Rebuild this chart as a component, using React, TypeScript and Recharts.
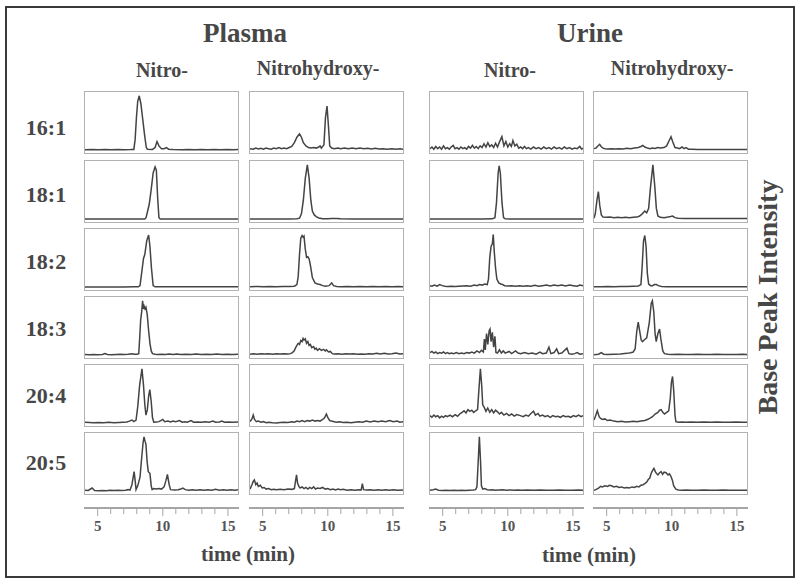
import React from 'react';
import { LineChart, Line, XAxis, YAxis } from 'recharts';

// ---------- text content ----------
const groupTitles = ['Plasma', 'Urine'];
const subTitles = ['Nitro-', 'Nitrohydroxy-', 'Nitro-', 'Nitrohydroxy-'];
const rowLabels = ['16:1', '18:1', '18:2', '18:3', '20:4', '20:5'];
const axisTitle = 'time (min)';
const sideTitle = 'Base Peak Intensity';
const axisTicks = [5, 6, 7, 8, 9, 10, 11, 12, 13, 14, 15];
const labeledTicks = [5, 10, 15];
const timeDomain = [3.95, 15.85];
const intensityDomain = [-5, 107];

// ---------- traces: [time (min), relative intensity] ----------
const pNitro161 = [[3.95,1],[4.5,1.5],[5,1],[5.5,1.5],[6,1],[6.5,1.5],[7,1],[7.5,1.2],[7.75,1.5],[7.85,20],[7.95,60],[8.05,90],[8.17,100],[8.3,85],[8.45,55],[8.6,25],[8.72,5],[8.8,2],[9.2,1.5],[9.4,5],[9.55,16],[9.7,8],[9.9,3],[10.1,3],[10.28,5],[10.45,2],[10.8,1.5],[11.5,1],[12,1.5],[12.5,1],[13,1.5],[13.5,1],[14,1.2],[14.5,1],[15,1.5],[15.5,1],[15.85,1.2]];
const pHydroxy161 = [[3.95,3],[4.2,2],[4.4,4],[4.6,2.5],[4.8,3.5],[5,2],[5.2,4],[5.4,3],[5.6,2],[5.8,4],[6,3],[6.2,5],[6.4,3],[6.6,4],[6.8,3],[7,5],[7.2,7],[7.4,14],[7.6,24],[7.8,30],[7.95,24],[8.1,14],[8.3,8],[8.5,5],[8.7,4],[8.9,5],[9.1,4],[9.3,6],[9.4,8],[9.5,4],[9.7,10],[9.82,60],[9.94,81],[10.05,45],[10.15,8],[10.3,4],[10.5,3],[10.8,4],[11,3],[11.3,4],[11.6,3],[11.9,4],[12.2,3],[12.5,4],[12.8,3],[13.1,3.5],[13.4,2.5],[13.7,3.5],[14,2.5],[14.3,3],[14.6,2],[15,3],[15.3,2],[15.6,3],[15.85,2]];
const uNitro161 = [[3.95,3],[4.1,6],[4.25,2],[4.4,7],[4.55,3],[4.7,6],[4.85,2],[5,8],[5.15,3],[5.3,5],[5.45,2],[5.6,6],[5.75,9],[5.9,3],[6.05,5],[6.2,2],[6.35,6],[6.5,3],[6.65,5],[6.8,2],[6.95,7],[7.1,4],[7.25,9],[7.4,4],[7.55,7],[7.7,3],[7.85,8],[8,5],[8.15,12],[8.3,6],[8.45,14],[8.6,7],[8.75,10],[8.9,5],[9.05,13],[9.2,6],[9.35,15],[9.54,25],[9.7,8],[9.85,16],[10,6],[10.15,12],[10.28,7],[10.4,18],[10.55,8],[10.7,11],[10.85,4],[11,6],[11.15,3],[11.3,7],[11.45,3],[11.6,5],[11.8,2],[12,6],[12.2,3],[12.4,5],[12.6,2],[12.8,6],[13,3],[13.2,5],[13.4,2],[13.6,6],[13.8,3],[14,5],[14.2,2],[14.4,6],[14.6,3],[14.8,5],[15,2],[15.2,4],[15.4,3],[15.6,7],[15.75,2],[15.85,4]];
const uHydroxy161 = [[3.95,3],[4.1,4],[4.25,8],[4.39,11],[4.5,7],[4.65,4],[4.8,3],[5,2.5],[5.3,3],[5.6,2.5],[5.9,3],[6.2,2.5],[6.5,3.5],[6.8,3],[7.1,4],[7.4,5],[7.6,7],[7.75,9],[7.9,6],[8.1,4],[8.3,3],[8.5,4],[8.7,3.5],[8.9,5],[9.1,4],[9.4,5],[9.6,8],[9.8,18],[9.94,25],[10.08,15],[10.25,5],[10.45,4],[10.6,3],[10.8,6],[10.95,3],[11.1,5],[11.3,2],[11.6,2],[12,1.5],[12.5,1.5],[13,1.2],[13.5,1.5],[14,1.2],[14.5,1.5],[15,1.2],[15.5,1.5],[15.85,1.2]];

const pNitro181 = [[3.95,0.5],[5,0.5],[6,0.5],[7,0.5],[8,0.5],[8.6,0.5],[8.7,3],[8.85,18],[8.95,28],[9.1,55],[9.25,85],[9.4,96],[9.5,90],[9.6,40],[9.7,3],[9.8,0.5],[11,0.5],[12,0.5],[13,0.5],[14,0.5],[15,0.5],[15.85,0.5]];
const pHydroxy181 = [[3.95,0.5],[5,0.5],[6,0.5],[7,0.5],[7.6,0.8],[7.8,2],[7.95,10],[8.1,35],[8.25,75],[8.41,100],[8.55,75],[8.68,35],[8.8,15],[8.95,8],[9.1,5],[9.3,2.5],[9.6,1],[10,0.8],[10.3,1.5],[10.7,1.5],[11,0.8],[12,0.5],[13,0.5],[14,0.5],[15,0.5],[15.85,0.5]];
const uNitro181 = [[3.95,0.5],[5,0.5],[6,0.5],[7,0.5],[8,0.5],[8.8,0.8],[9,3],[9.12,30],[9.25,85],[9.33,98],[9.42,85],[9.55,30],[9.67,3],[9.8,0.8],[10.5,0.5],[12,0.5],[13,0.5],[14,0.5],[15,0.5],[15.85,0.5]];
const uHydroxy181 = [[3.95,2],[4.05,10],[4.18,35],[4.29,51],[4.4,25],[4.52,8],[4.65,4],[4.9,3.5],[5.2,4],[5.5,3],[5.8,3.5],[6.1,3],[6.4,3.5],[6.7,3],[7,3.5],[7.3,4],[7.5,6],[7.7,10],[7.9,15],[8.05,12],[8.2,20],[8.35,60],[8.53,100],[8.68,60],[8.8,20],[8.92,6],[9.1,3.5],[9.4,3],[9.7,4],[9.9,5],[10.06,6],[10.25,3],[10.5,2],[11,1.5],[12,1.5],[13,1.2],[14,1.5],[15,1.2],[15.85,1.5]];

const pNitro182 = [[3.95,0.5],[5,0.5],[6,0.5],[7,0.5],[7.7,0.8],[8.1,0.8],[8.23,3],[8.35,25],[8.5,53],[8.6,60],[8.75,85],[8.9,96],[9.0,75],[9.12,35],[9.25,3],[9.4,0.8],[10,0.8],[11,1],[12,0.8],[13,1],[14,0.8],[15,1],[15.85,0.8]];
const pHydroxy182 = [[3.95,1],[4.5,1.5],[5,1],[5.5,1.5],[6,1],[6.5,1.5],[7,1.5],[7.4,2],[7.6,5],[7.7,20],[7.8,60],[7.9,90],[8.0,95],[8.08,92],[8.15,94],[8.25,70],[8.35,55],[8.45,56],[8.55,52],[8.65,40],[8.8,18],[9.0,8],[9.2,6],[9.4,5],[9.6,3],[9.8,2],[10.1,3],[10.3,8],[10.45,3],[10.7,1.5],[11,1],[11.5,1.5],[12,1],[12.5,1.5],[13,1],[13.5,1.5],[14,1],[14.5,1.5],[15,1],[15.5,1.5],[15.85,1]];
const uNitro182 = [[3.95,3],[4.1,2],[4.3,4],[4.5,2],[4.7,5],[4.9,3],[5.1,2],[5.3,1.5],[5.6,2],[5.9,1.5],[6.2,2],[6.5,2.5],[6.8,3],[7.1,2],[7.4,4],[7.6,3],[7.8,5],[8.0,4],[8.2,6],[8.4,5],[8.5,15],[8.6,55],[8.7,75],[8.8,80],[8.87,97],[8.95,65],[9.05,35],[9.15,15],[9.3,8],[9.45,6],[9.6,5],[9.75,3],[10,2.5],[10.3,3],[10.6,2],[10.9,3],[11.2,2],[11.5,3],[11.8,2],[12.1,3.5],[12.4,2],[12.7,3],[13,4],[13.3,2.5],[13.6,4],[13.9,3],[14.2,4],[14.5,2.5],[14.8,4],[15.1,3],[15.4,2],[15.6,4],[15.85,3]];
const uHydroxy182 = [[3.95,1],[4.5,1],[5,1.5],[5.5,1],[6,1.5],[6.5,1.5],[7,2],[7.4,2.5],[7.6,5],[7.7,40],[7.8,85],[7.9,95],[8.0,75],[8.1,25],[8.2,6],[8.35,3],[8.5,3],[8.65,5],[8.8,5],[8.95,3],[9.2,1.5],[9.6,1],[10,1],[11,1],[12,1],[13,1],[14,1],[15,1],[15.85,1]];

const pNitro183 = [[3.95,1.5],[4.3,1],[4.6,1.5],[4.9,1],[5.3,1.5],[5.5,3],[5.7,1.5],[6,1],[6.4,1.5],[6.7,2],[7,1.5],[7.3,2],[7.6,3],[7.8,2],[8.0,2],[8.13,3],[8.2,30],[8.28,65],[8.36,80],[8.43,100],[8.5,85],[8.55,90],[8.62,85],[8.69,88],[8.75,80],[8.79,75],[8.9,45],[9.0,22],[9.1,8],[9.2,3],[9.4,2],[9.6,1.5],[9.9,2],[10.2,1.5],[10.5,2.5],[10.8,1.5],[11.1,2.5],[11.4,1.5],[11.8,2],[12.2,1.5],[12.6,2.5],[13,1.5],[13.4,2],[13.8,1.5],[14.2,2.5],[14.6,1.5],[15,2],[15.4,1.5],[15.85,2]];
const pHydroxy183 = [[3.95,2],[4.2,3],[4.5,2],[4.8,3],[5.1,2.5],[5.4,3],[5.7,2],[6,3],[6.3,2.5],[6.6,3],[6.9,2.5],[7.1,3],[7.25,5],[7.39,8],[7.5,14],[7.6,18],[7.7,22],[7.8,20],[7.9,27],[8.0,25],[8.08,31],[8.15,28],[8.25,30],[8.35,22],[8.45,25],[8.55,18],[8.65,20],[8.75,14],[8.9,16],[9.0,11],[9.1,13],[9.2,9],[9.35,12],[9.5,9],[9.68,11],[9.8,8],[9.9,10],[10.05,6],[10.2,7],[10.35,3],[10.5,2.5],[10.8,3],[11.1,2],[11.4,3],[11.7,2.5],[12,3],[12.3,2],[12.6,2.5],[12.9,2],[13.2,3],[13.5,2.5],[13.8,3.5],[14.1,2.5],[14.4,3.5],[14.7,2.5],[15,3],[15.3,4],[15.6,2.5],[15.85,3]];
const uNitro183 = [[3.95,5],[4.1,7],[4.25,4],[4.4,6],[4.55,3],[4.7,5],[4.85,4],[5,6],[5.15,3],[5.3,5],[5.45,3],[5.6,4],[5.8,3],[6,5],[6.2,3],[6.4,4],[6.6,3],[6.8,5],[7,4],[7.2,6],[7.4,4],[7.6,8],[7.8,5],[7.95,9],[8.1,6],[8.18,30],[8.25,10],[8.35,40],[8.45,20],[8.55,45],[8.62,48],[8.7,25],[8.8,42],[8.9,15],[9.0,35],[9.08,5],[9.2,4],[9.35,10],[9.5,4],[9.65,8],[9.8,4],[10.1,7],[10.3,3],[10.6,8],[10.8,4],[11.0,3],[11.3,5],[11.6,3],[11.9,4],[12.2,2],[12.5,6],[12.7,3],[13.0,4],[13.2,15],[13.35,3],[13.6,5],[13.8,12],[13.95,3],[14.2,4],[14.6,13],[14.75,3],[15.0,2],[15.2,3],[15.4,5],[15.6,2],[15.85,3]];
const uHydroxy183 = [[3.95,1],[4.3,2],[4.52,5],[4.7,2],[5,1.5],[5.5,2],[6,2.5],[6.5,3.5],[6.8,4.5],[7.0,6],[7.15,12],[7.28,45],[7.39,61],[7.5,45],[7.62,28],[7.72,25],[7.85,28],[8.05,32],[8.25,60],[8.4,95],[8.49,100],[8.6,80],[8.7,40],[8.79,25],[8.92,40],[9.05,48],[9.15,30],[9.3,8],[9.43,3],[9.7,2],[10,1.5],[10.5,2],[11,1.5],[11.5,1.5],[12,2],[12.5,1.5],[13,1.5],[13.5,2],[14,1.5],[14.5,1.5],[15,1.5],[15.5,2],[15.85,1.5]];

const pNitro204 = [[3.95,2],[4.3,1.5],[4.6,1],[5,1.5],[5.4,1],[5.8,2],[6.2,1],[6.6,1.5],[6.9,2],[7.2,2.5],[7.4,4],[7.6,6],[7.75,3],[7.92,6],[8.05,30],[8.2,70],[8.38,100],[8.5,70],[8.6,35],[8.69,15],[8.8,25],[8.9,50],[8.99,62],[9.1,40],[9.2,10],[9.3,2],[9.5,2.5],[9.7,3],[9.85,5],[10.0,7],[10.15,3],[10.4,4],[10.6,2.5],[10.8,4],[11.0,3],[11.3,5],[11.5,2],[11.7,3],[11.9,2],[12.2,5],[12.4,2],[12.7,2.5],[13,2],[13.3,3],[13.6,2],[13.9,4],[14.1,2],[14.4,2.5],[14.6,4],[14.8,2],[15.1,2.5],[15.4,2],[15.85,2.5]];
const pHydroxy204 = [[3.95,3],[4.1,8],[4.2,15],[4.3,7],[4.45,3],[4.6,4],[4.8,2],[5.0,3],[5.2,1],[5.4,2],[5.7,1],[6.0,0.5],[6.3,1.5],[6.6,2],[6.9,1.5],[7.2,3],[7.4,2],[7.6,4],[7.8,3],[8.0,5],[8.2,3],[8.4,5],[8.6,4],[8.8,6],[9.0,4],[9.2,5],[9.4,4],[9.6,7],[9.75,10],[9.89,17],[10.0,11],[10.15,5],[10.3,4],[10.5,3],[10.7,2],[10.9,3],[11.2,1.5],[11.5,2],[11.8,1],[12.1,2],[12.4,3],[12.7,2],[13,4],[13.3,2.5],[13.6,4],[13.9,3],[14.2,4],[14.5,3],[14.8,5],[15.1,3],[15.4,4],[15.6,2],[15.85,3]];
const uNitro204 = [[3.95,14],[4.1,11],[4.25,15],[4.4,12],[4.55,14],[4.7,10],[4.85,13],[5,11],[5.15,14],[5.3,12],[5.5,15],[5.7,12],[5.9,16],[6.1,13],[6.3,18],[6.45,20],[6.6,23],[6.75,19],[6.9,25],[7.05,22],[7.2,24],[7.35,20],[7.5,23],[7.65,25],[7.75,60],[7.87,100],[7.97,70],[8.05,34],[8.15,30],[8.3,22],[8.44,28],[8.6,20],[8.75,25],[8.9,19],[9.05,24],[9.2,21],[9.35,17],[9.5,20],[9.7,15],[9.9,18],[10.1,14],[10.3,17],[10.5,13],[10.7,16],[10.97,14],[11.2,12],[11.4,15],[11.6,13],[11.8,18],[12.0,22],[12.15,15],[12.35,18],[12.5,13],[12.7,15],[12.9,12],[13.1,14],[13.3,11],[13.5,14],[13.7,12],[13.9,13],[14.1,11],[14.3,14],[14.5,12],[14.7,13],[14.9,11],[15.1,14],[15.3,12],[15.5,15],[15.7,12],[15.85,14]];
const uHydroxy204 = [[3.95,6],[4.05,12],[4.21,23],[4.35,12],[4.46,9],[4.6,7],[4.8,8],[5.0,5],[5.2,6],[5.5,4],[5.8,3],[6.1,3.5],[6.4,2.5],[6.7,3],[7,3.5],[7.3,3],[7.6,4],[7.9,5],[8.1,7],[8.28,9],[8.5,12],[8.7,17],[8.92,20],[9.05,24],[9.17,25],[9.3,20],[9.43,17],[9.6,20],[9.76,23],[9.88,45],[9.97,75],[10.06,86],[10.15,60],[10.25,15],[10.32,3],[10.5,2],[10.8,2.5],[11.1,2],[11.5,2.5],[12,2],[12.5,2.5],[13,2],[13.5,2.5],[14,2],[14.5,2],[15,2.5],[15.5,2],[15.85,2]];

const pNitro205 = [[3.95,2],[4.2,1.5],[4.5,6],[4.7,1.5],[5.0,1],[5.3,1.5],[5.6,1],[5.9,2],[6.2,1.5],[6.5,2],[6.8,1.5],[7.1,2],[7.3,3],[7.45,2],[7.6,12],[7.77,36],[7.85,20],[7.92,3],[8.05,10],[8.23,26],[8.36,62],[8.47,90],[8.54,100],[8.62,92],[8.69,86],[8.78,55],[8.87,36],[9.0,33],[9.1,10],[9.17,3],[9.3,5],[9.5,4],[9.7,5],[9.9,4],[10.1,8],[10.25,20],[10.36,31],[10.5,12],[10.6,3],[10.9,2.5],[11.2,3],[11.4,4],[11.56,6],[11.75,3],[12,2],[12.3,3],[12.6,2],[12.9,3],[13.2,2],[13.5,3],[13.8,2],[14.1,3.5],[14.4,2],[14.7,3],[15,2],[15.3,3],[15.6,2],[15.85,3]];
const pHydroxy205 = [[3.95,4],[4.1,12],[4.2,18],[4.29,21],[4.4,12],[4.5,15],[4.6,9],[4.75,11],[4.9,6],[5.05,7],[5.2,4],[5.4,5],[5.6,3],[5.8,3.5],[6,3],[6.3,3.5],[6.6,3],[6.9,4],[7.2,3.5],[7.4,5],[7.5,20],[7.57,30],[7.65,15],[7.75,9],[7.85,6],[8.0,8],[8.15,5],[8.3,7],[8.45,4],[8.6,7],[8.75,5],[8.9,8],[9.05,4],[9.2,6],[9.4,5],[9.6,7],[9.8,4],[10.0,5],[10.2,3],[10.4,4],[10.6,2.5],[10.8,4],[11.0,3],[11.2,3.5],[11.5,2],[11.8,3],[12.1,2],[12.4,3],[12.6,2.5],[12.69,14],[12.78,3],[13,2.5],[13.3,3],[13.6,2],[13.9,3],[14.2,2],[14.5,3],[14.8,2],[15.1,3],[15.4,2],[15.85,2.5]];
const uNitro205 = [[3.95,2],[4.2,3],[4.4,4],[4.6,2],[4.9,1.5],[5.2,2],[5.5,1.5],[5.8,2],[6.1,1.5],[6.4,2],[6.7,1.5],[7.0,2],[7.3,2.5],[7.5,3],[7.6,8],[7.7,55],[7.79,100],[7.88,55],[7.95,10],[8.05,4],[8.2,5],[8.4,3],[8.6,2.5],[8.8,3],[9.0,2],[9.3,2.5],[9.6,3],[9.9,2],[10.2,2.5],[10.5,2],[10.8,2.5],[11.1,2],[11.5,2.5],[12,2],[12.5,2.5],[13,2],[13.5,2],[14,2.5],[14.5,2],[15,2],[15.5,2.5],[15.85,2]];
const uHydroxy205 = [[3.95,2],[4.1,3],[4.3,6],[4.47,9],[4.6,8],[4.8,10],[5.0,9],[5.15,11],[5.3,10],[5.5,8],[5.7,9],[5.9,7],[6.1,8],[6.3,6],[6.5,7],[6.7,6],[6.9,8],[7.1,7],[7.27,9],[7.45,8],[7.6,11],[7.77,12],[7.9,14],[8.05,17],[8.18,22],[8.28,24],[8.4,33],[8.5,38],[8.61,42],[8.72,36],[8.8,33],[8.92,30],[9.05,34],[9.17,36],[9.28,31],[9.4,35],[9.56,34],[9.7,30],[9.82,32],[9.94,27],[10.05,20],[10.15,10],[10.32,4],[10.5,2.5],[10.8,2],[11.1,2.5],[11.5,2],[12,2],[12.5,2.5],[13,2],[13.5,2],[14,2.5],[14.5,2],[15,2],[15.5,2],[15.85,2]];

const traceGrid = [
  [pNitro161, pHydroxy161, uNitro161, uHydroxy161],
  [pNitro181, pHydroxy181, uNitro181, uHydroxy181],
  [pNitro182, pHydroxy182, uNitro182, uHydroxy182],
  [pNitro183, pHydroxy183, uNitro183, uHydroxy183],
  [pNitro204, pHydroxy204, uNitro204, uHydroxy204],
  [pNitro205, pHydroxy205, uNitro205, uHydroxy205],
];

// ---------- layout ----------
const COL_LEFT = [84, 249, 429, 593];
const ROW_TOP = [91, 160, 228, 296, 364, 432];
const ROW_LABEL_Y = [128, 195, 262, 329, 396, 463];
const PANEL_W = 155;
const PANEL_H = 63;
const FONT = "'Liberation Serif', 'Times New Roman', serif";
const TEXT_COLOR = '#474747';
const LINE_COLOR = '#444444';
const AXIS_COLOR = '#a5a5a5';

const centered = (x: number, y: number, size: number, extra: any = {}) => ({
  position: 'absolute' as const,
  left: x,
  top: y,
  transform: 'translate(-50%, -50%)',
  fontFamily: FONT,
  fontWeight: 'bold' as const,
  fontSize: size,
  color: TEXT_COLOR,
  whiteSpace: 'nowrap' as const,
  lineHeight: 1,
  ...extra,
});

function Panel({ pts, left, top }: { pts: number[][]; left: number; top: number }) {
  const data = pts.map(([t, v]) => ({ t, v }));
  return (
    <div
      style={{
        position: 'absolute',
        left,
        top,
        width: PANEL_W,
        height: PANEL_H,
        border: '1px solid #b2b2b2',
        boxSizing: 'border-box',
      }}
    >
      <LineChart width={PANEL_W - 2} height={PANEL_H - 2} data={data} margin={{ top: 0, right: 0, bottom: 0, left: 0 }}>
        <XAxis dataKey="t" type="number" domain={timeDomain} hide allowDataOverflow />
        <YAxis type="number" domain={intensityDomain} hide allowDataOverflow />
        <Line type="linear" dataKey="v" stroke={LINE_COLOR} strokeWidth={1.5} dot={false} isAnimationActive={false} />
      </LineChart>
    </div>
  );
}

function AxisTick(props: any) {
  const { x, y, payload } = props;
  const major = labeledTicks.includes(payload.value);
  return (
    <g>
      <line x1={x} x2={x} y1={y + 1} y2={y + (major ? 8 : 6)} stroke={AXIS_COLOR} strokeWidth={1} />
      {major && (
        <text
          x={x}
          y={y + 23}
          textAnchor="middle"
          fill="#555"
          fontSize={15}
          fontWeight="bold"
          fontFamily={FONT}
        >
          {payload.value}
        </text>
      )}
    </g>
  );
}

function TimeAxis({ left }: { left: number }) {
  const data = timeDomain.map((t) => ({ t, v: 0 }));
  return (
    <div style={{ position: 'absolute', left, top: 488 }}>
      <LineChart width={PANEL_W} height={60} data={data} margin={{ top: 10, right: 0, bottom: 0, left: 0 }}>
        <XAxis
          dataKey="t"
          type="number"
          domain={timeDomain}
          ticks={axisTicks}
          interval={0}
          allowDataOverflow
          height={40}
          tickSize={0}
          tickMargin={0}
          tickLine={false}
          axisLine={{ stroke: AXIS_COLOR, strokeWidth: 2 }}
          tick={<AxisTick />}
        />
        <YAxis hide domain={[0, 1]} />
        <Line dataKey="v" stroke="none" dot={false} isAnimationActive={false} />
      </LineChart>
    </div>
  );
}

export default function App() {
  return (
    <div style={{ position: 'absolute', left: 0, top: 0, width: 800, height: 584, background: '#fff', overflow: 'hidden' }}>
      <div
        style={{
          position: 'absolute',
          left: 5,
          top: 6,
          width: 790,
          height: 572,
          border: '2px solid #3a3a3a',
          boxSizing: 'border-box',
        }}
      />
      <div style={centered(245, 33, 27)}>{groupTitles[0]}</div>
      <div style={centered(590, 33, 27)}>{groupTitles[1]}</div>
      <div style={centered(162, 70, 20)}>{subTitles[0]}</div>
      <div style={centered(318, 68, 20)}>{subTitles[1]}</div>
      <div style={centered(510, 70, 20)}>{subTitles[2]}</div>
      <div style={centered(672, 68, 20)}>{subTitles[3]}</div>
      {rowLabels.map((lab, i) => (
        <div key={lab} style={centered(46, ROW_LABEL_Y[i], 22)}>
          {lab}
        </div>
      ))}
      <div style={centered(768, 297, 28, { transform: 'translate(-50%, -50%) rotate(-90deg)' })}>{sideTitle}</div>
      {traceGrid.map((row, r) =>
        row.map((pts, c) => <Panel key={`${r}-${c}`} pts={pts} left={COL_LEFT[c]} top={ROW_TOP[r]} />)
      )}
      {COL_LEFT.map((l) => (
        <TimeAxis key={l} left={l} />
      ))}
      <div style={centered(248, 554, 21)}>{axisTitle}</div>
      <div style={centered(589, 555, 21)}>{axisTitle}</div>
    </div>
  );
}
